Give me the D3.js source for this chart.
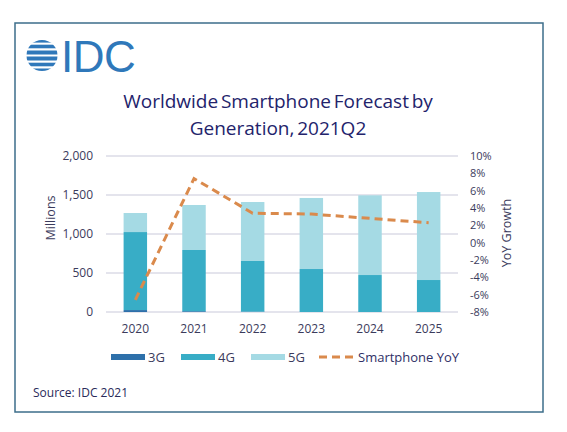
<!DOCTYPE html>
<html><head><meta charset="utf-8">
<script src="https://cdn.jsdelivr.net/npm/d3@7"></script>
<style>body{margin:0;background:#fff}svg{display:block}</style>
</head><body>
<svg id="c" width="567" height="432"></svg>
<script>
const years = ["2020","2021","2022","2023","2024","2025"];
const g3 = [25, 10, 5, 0, 0, 0];
const g4 = [1000, 785, 649, 551, 474, 410];
const g5 = [244, 577, 756, 911, 1022, 1128];
const yoy = [-6.6, 7.4, 3.4, 3.3, 2.8, 2.3];
const leftTicks = [0, 500, 1000, 1500, 2000];
const rightTicks = [-8,-6,-4,-2,0,2,4,6,8,10];
const seriesNames = ["3G","4G","5G"];
const colors = {"3G":"#2e70aa","4G":"#38adc6","5G":"#a5dae4"};
const lineColor = "#da8a4c";
const textColor = "#3b3b5c";
const font = "'Open Sans', sans-serif";

const svg = d3.select("#c");
svg.append("rect").attr("x",15).attr("y",23).attr("width",528).attr("height",389)
  .attr("fill","#fff").attr("stroke","#3d6e8a").attr("stroke-width",1.5);

// Logo
const logo = svg.append("g");
const clip = svg.append("defs").append("clipPath").attr("id","gl");
clip.append("circle").attr("cx",42).attr("cy",55.5).attr("r",15.5);
const stripes = logo.append("g").attr("clip-path","url(#gl)");
[ [41,3.2],[46.5,3.6],[52.5,4],[58.5,4],[64.5,3.6],[70,3] ].forEach(([y,h])=>{
  stripes.append("rect").attr("x",26).attr("y",y-h/2).attr("width",32).attr("height",h).attr("fill","#2f78ba");
});
logo.append("text").attr("x",61).attr("y",71.5).attr("font-family","'Liberation Sans', Arial, sans-serif")
  .attr("font-size",44).attr("fill","#2f78ba").attr("letter-spacing",-0.5).text("IDC");

// Title
svg.append("text").attr("x",278).attr("y",108).attr("text-anchor","middle")
  .attr("font-family",font).attr("font-size",19).attr("fill","#23236b").attr("word-spacing",-2.2)
  .text("Worldwide Smartphone Forecast by");
svg.append("text").attr("x",278).attr("y",135).attr("text-anchor","middle")
  .attr("font-family",font).attr("font-size",19).attr("fill","#23236b").attr("word-spacing",-2.2)
  .text("Generation, 2021Q2");

const x = d3.scaleBand().domain(years).range([106,458]).paddingInner(0.6).paddingOuter(0.3);
const y = d3.scaleLinear().domain([0,2000]).range([312,156]);
const y2 = d3.scaleLinear().domain([-8,10]).range([312,156]);

// grid
svg.append("g").selectAll("line").data(leftTicks).join("line")
  .attr("x1",106).attr("x2",458).attr("y1",d=>y(d)).attr("y2",d=>y(d))
  .attr("stroke","#c9c9da").attr("stroke-width",1);

// bars
const rows = years.map((yr,i)=>({year:yr,"3G":g3[i],"4G":g4[i],"5G":g5[i]}));
const stack = d3.stack().keys(seriesNames)(rows);
svg.append("g").selectAll("g").data(stack).join("g").attr("fill",d=>colors[d.key])
  .selectAll("rect").data(d=>d).join("rect")
  .attr("x",d=>x(d.data.year)).attr("width",x.bandwidth())
  .attr("y",d=>y(d[1])).attr("height",d=>y(d[0])-y(d[1]));

// line
const line = d3.line().x((d,i)=>x(years[i])+x.bandwidth()/2).y(d=>y2(d));
svg.append("path").datum(yoy).attr("d",line).attr("fill","none")
  .attr("stroke",lineColor).attr("stroke-width",3).attr("stroke-dasharray","8,5");

// left axis
const la = svg.append("g").attr("transform","translate(106,0)")
  .call(d3.axisLeft(y).tickValues(leftTicks).tickSize(0).tickPadding(13).tickFormat(d3.format(",")));
la.select(".domain").remove();
la.selectAll("text").attr("font-family",font).attr("font-size",12).attr("fill",textColor);

// right axis
const ra = svg.append("g").attr("transform","translate(458,0)")
  .call(d3.axisRight(y2).tickValues(rightTicks).tickSize(0).tickPadding(12).tickFormat(d=>d+"%"));
ra.select(".domain").remove();
ra.selectAll("text").attr("font-family",font).attr("font-size",11).attr("fill",textColor);

// x axis
const xa = svg.append("g").attr("transform","translate(0,312)")
  .call(d3.axisBottom(x).tickSize(0).tickPadding(12));
xa.select(".domain").remove();
xa.selectAll("text").attr("font-family",font).attr("font-size",12).attr("fill",textColor);

// axis titles
svg.append("text").attr("transform","translate(55,218) rotate(-90)").attr("text-anchor","middle")
  .attr("font-family",font).attr("font-size",12.5).attr("fill",textColor).text("Millions");
svg.append("text").attr("transform","translate(511,233) rotate(-90)").attr("text-anchor","middle")
  .attr("font-family",font).attr("font-size",12.5).attr("fill",textColor).text("YoY Growth");

// legend
const leg = [{k:"3G",x:111},{k:"4G",x:181},{k:"5G",x:251}];
leg.forEach(l=>{
  svg.append("rect").attr("x",l.x).attr("y",354).attr("width",34).attr("height",6).attr("fill",colors[l.k]);
  svg.append("text").attr("x",l.x+37).attr("y",362).attr("font-family",font).attr("font-size",13)
    .attr("fill",textColor).text(l.k);
});
svg.append("line").attr("x1",319).attr("x2",353).attr("y1",357).attr("y2",357)
  .attr("stroke",lineColor).attr("stroke-width",3).attr("stroke-dasharray","8,5");
svg.append("text").attr("x",358).attr("y",362).attr("font-family",font).attr("font-size",13)
  .attr("fill","#2f2f66").text("Smartphone YoY");

// source
svg.append("text").attr("x",33).attr("y",397).attr("font-family",font).attr("font-size",12)
  .attr("fill","#2a2a5a").text("Source: IDC 2021");
</script>
</body></html>
